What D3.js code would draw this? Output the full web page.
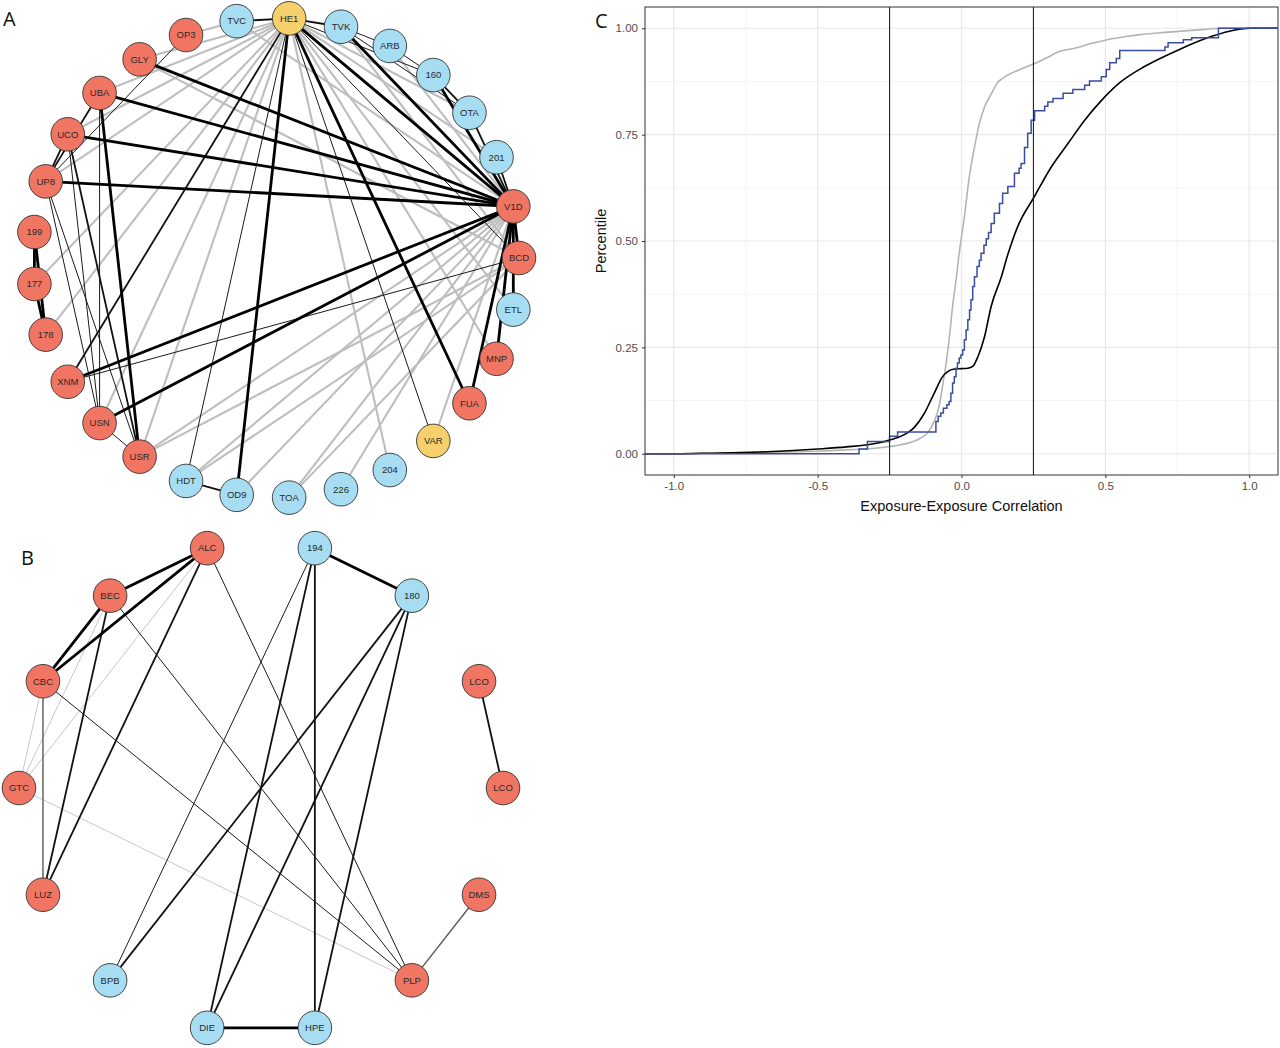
<!DOCTYPE html>
<html><head><meta charset="utf-8">
<script src="https://cdn.jsdelivr.net/npm/d3@7/dist/d3.min.js"></script>
<style>body{margin:0;background:#fff}svg{display:block}</style>
</head><body>
<svg id="c" width="1280" height="1048"></svg>
<script>
// ---------- Panel A network ----------
const nodesA = ["BCD","V1D","201","OTA","160","ARB","TVK","HE1","TVC","OP3","GLY","UBA","UCO","UP8","199","177","178","XNM","USN","USR","HDT","OD9","TOA","226","204","VAR","FUA","MNP","ETL"];
const groupsA = ["r","r","b","b","b","b","b","y","b","r","r","r","r","r","r","r","r","r","r","r","b","b","b","b","b","y","r","r","b"];
// [from, to, style]  g = grey, t = thin black, m = medium black, k = thick black
const edgesA = [
  ["OP3","TVC","g"],["HE1","GLY","g"],["HE1","UBA","g"],["HE1","UCO","g"],["HE1","UP8","g"],
  ["HE1","177","g"],["HE1","178","g"],["HE1","USN","g"],["HE1","USR","g"],["HE1","204","g"],
  ["HE1","MNP","g"],["HE1","ETL","g"],["HE1","OTA","g"],["HE1","201","g"],["TVC","V1D","g"],
  ["GLY","BCD","g"],["V1D","USR","g"],["V1D","HDT","g"],
  ["V1D","OD9","g"],["V1D","TOA","g"],["V1D","226","g"],["BCD","USR","g"],["BCD","HDT","g"],
  ["BCD","TOA","g"],["V1D","VAR","g"],["ARB","V1D","g"],["TVK","BCD","g"],
  ["HE1","TVC","m"],["HE1","TVK","m"],["HE1","V1D","k"],["HE1","OD9","k"],["HE1","HDT","t"],
  ["HE1","XNM","m"],["HE1","FUA","k"],["HE1","VAR","t"],["HE1","160","t"],["HE1","BCD","t"],
  ["TVK","V1D","k"],["TVK","ARB","t"],["ARB","160","t"],["TVK","OTA","t"],["160","V1D","k"],
  ["160","OTA","m"],["OTA","V1D","m"],["201","V1D","m"],
  ["V1D","BCD","k"],["V1D","ETL","k"],["V1D","MNP","k"],["V1D","FUA","k"],
  ["GLY","V1D","k"],["UBA","V1D","k"],["UCO","V1D","k"],["UP8","V1D","k"],["XNM","V1D","k"],["USN","V1D","k"],
  ["XNM","BCD","t"],["UBA","USR","k"],["UBA","USN","t"],["UCO","USR","m"],["UCO","USN","t"],
  ["UP8","USR","t"],["UP8","USN","t"],["UP8","UBA","m"],["UP8","UCO","m"],["OP3","UP8","t"],
  ["USN","USR","t"],["HDT","OD9","m"],["199","177","k"],["177","178","k"],["199","178","k"]
];

// ---------- Panel B network ----------
const nodesB = ["LCO","LCO ","180","194","ALC","BEC","CBC","GTC","LUZ","BPB","DIE","HPE","PLP","DMS"];
const groupsB = ["r","r","b","b","r","r","r","r","r","b","b","b","r","r"];
// l = light grey thin, d = dark grey
const edgesB = [
  ["ALC","BEC","k"],["ALC","CBC","k"],["BEC","CBC","k"],["ALC","LUZ","m"],["BEC","LUZ","m"],
  ["CBC","LUZ","d"],["ALC","GTC","l"],["BEC","GTC","l"],["CBC","GTC","l"],["GTC","PLP","l"],
  ["ALC","PLP","t"],["BEC","PLP","t"],["CBC","PLP","t"],["194","180","k"],["194","BPB","t"],
  ["194","DIE","m"],["194","HPE","m"],["180","BPB","m"],["180","DIE","m"],["180","HPE","m"],
  ["DIE","HPE","k"],["LCO","LCO ","m"],["DMS","PLP","d"]
];

// ---------- Panel C data ----------
const xTicks = [-1.0,-0.5,0.0,0.5,1.0];
const xTickLabels = ["-1.0","-0.5","0.0","0.5","1.0"];
const yTicks = [0,0.25,0.5,0.75,1];
const yTickLabels = ["0.00","0.25","0.50","0.75","1.00"];
const vLines = [-0.25, 0.25];

const greyX = [-1.1,-1.0,-0.9,-0.8,-0.7,-0.6,-0.5,-0.4,-0.3,-0.25,-0.211,-0.153,-0.118,-0.095,-0.078,-0.066,-0.055,-0.043,-0.031,-0.019,-0.008,0.0,0.01,0.027,0.045,0.062,0.08,0.103,0.125,0.138,0.172,0.21,0.254,0.3,0.335,0.4,0.45,0.5,0.567,0.62,0.683,0.8,0.917,1.1];
const greyY = [0,0,0.001,0.002,0.003,0.004,0.006,0.009,0.013,0.017,0.021,0.033,0.049,0.076,0.111,0.158,0.205,0.268,0.346,0.408,0.471,0.51,0.557,0.65,0.72,0.776,0.815,0.845,0.872,0.88,0.894,0.905,0.917,0.932,0.944,0.954,0.964,0.972,0.98,0.985,0.989,0.995,1.0,1.0];

const blackX = [-1.1,-1.0,-0.9,-0.8,-0.7,-0.6,-0.5,-0.4,-0.3,-0.25,-0.211,-0.164,-0.13,-0.095,-0.066,-0.048,-0.025,0.0,0.022,0.04,0.057,0.08,0.103,0.138,0.161,0.196,0.253,0.312,0.37,0.428,0.486,0.55,0.636,0.75,0.87,0.95,1.0,1.1];
const blackY = [0,0,0.001,0.002,0.004,0.007,0.011,0.016,0.024,0.032,0.041,0.062,0.094,0.142,0.181,0.193,0.199,0.2,0.201,0.206,0.228,0.275,0.346,0.415,0.468,0.535,0.604,0.674,0.729,0.784,0.83,0.872,0.91,0.948,0.981,0.996,1.0,1.0];

const blueX = [-1.1,-0.356,-0.327,-0.25,-0.222,-0.089,-0.081,-0.072,-0.063,-0.051,-0.043,-0.037,-0.031,-0.025,-0.019,-0.014,-0.008,-0.002,0.004,0.010,0.016,0.022,0.028,0.033,0.039,0.045,0.054,0.062,0.068,0.078,0.086,0.094,0.103,0.114,0.132,0.143,0.161,0.184,0.2,0.207,0.219,0.23,0.242,0.254,0.289,0.30,0.318,0.353,0.387,0.428,0.445,0.486,0.503,0.515,0.538,0.55,0.707,0.718,0.771,0.80,0.893,1.1];
const blueY = [0,0.011,0.029,0.041,0.051,0.076,0.088,0.096,0.107,0.115,0.123,0.142,0.166,0.181,0.201,0.213,0.225,0.232,0.244,0.268,0.291,0.315,0.338,0.362,0.393,0.416,0.44,0.455,0.471,0.49,0.505,0.52,0.541,0.565,0.588,0.612,0.628,0.659,0.671,0.682,0.72,0.753,0.784,0.806,0.817,0.827,0.835,0.847,0.856,0.866,0.876,0.886,0.903,0.919,0.929,0.948,0.956,0.966,0.973,0.978,1.0,1.0];

// ---------- drawing ----------
const svg = d3.select("#c");
const fills = {r:"#F07562", b:"#A6DDF2", y:"#F6D06C"};
const eStyle = {
  g:{c:"#BEBEBE",w:2.1}, l:{c:"#C8C8C8",w:1.0}, d:{c:"#5a5a5a",w:1.4},
  t:{c:"#1a1a1a",w:1.0}, m:{c:"#111111",w:1.8}, k:{c:"#000000",w:2.8}
};

function drawNetwork(g, names, groups, edges, cx, cy, rx, ry) {
  const n = names.length;
  const ang = d3.scaleLinear().domain([0, n]).range([0, 2*Math.PI]);
  const sx = d3.scaleLinear().domain([-1,1]).range([cx-rx, cx+rx]);
  const sy = d3.scaleLinear().domain([-1,1]).range([cy+ry, cy-ry]);
  const pos = {};
  names.forEach((nm,i)=>{ pos[nm] = [sx(Math.cos(ang(i))), sy(Math.sin(ang(i)))]; });
  const order = ["g","l","d","t","m","k"];
  const sorted = edges.slice().sort((a,b)=>order.indexOf(a[2])-order.indexOf(b[2]));
  g.selectAll("line.e").data(sorted).join("line")
    .attr("x1",d=>pos[d[0]][0]).attr("y1",d=>pos[d[0]][1])
    .attr("x2",d=>pos[d[1]][0]).attr("y2",d=>pos[d[1]][1])
    .attr("stroke",d=>eStyle[d[2]].c).attr("stroke-width",d=>eStyle[d[2]].w);
  const ng = g.selectAll("g.n").data(names).join("g")
    .attr("transform",d=>`translate(${pos[d][0]},${pos[d][1]})`);
  ng.append("circle").attr("r",16.8).attr("fill",(d,i)=>fills[groups[i]])
    .attr("stroke","#333").attr("stroke-width",0.9);
  ng.append("text").text(d=>d.trim()).attr("text-anchor","middle").attr("dy","0.35em")
    .attr("font-family","Liberation Sans, Arial, sans-serif").attr("font-size",9.5)
    .attr("fill","#2a2a2a");
}

drawNetwork(svg.append("g"), nodesA, groupsA, edgesA, 276, 258, 243, 240);
drawNetwork(svg.append("g"), nodesB, groupsB, edgesB, 261, 788, 242, 246);

// panel letters
const lf = "Open Sans, DejaVu Sans, sans-serif";
svg.append("text").text("A").attr("x",3).attr("y",26).attr("font-family",lf).attr("font-size",20).attr("fill","#111");
svg.append("text").text("B").attr("x",21).attr("y",565).attr("font-family",lf).attr("font-size",20).attr("fill","#111");
svg.append("text").text("C").attr("x",595).attr("y",28).attr("font-family",lf).attr("font-size",20).attr("fill","#111");

// ---------- Panel C plot ----------
const L=645, R=1278, T=7, B=475;
const x = d3.scaleLinear().domain([-1.1,1.1]).range([L,R]);
const y = d3.scaleLinear().domain([-0.05,1.05]).range([B,T]);
const pc = svg.append("g");
const minorX = [-0.75,-0.25,0.25,0.75], minorY=[0.125,0.375,0.625,0.875];
pc.selectAll("line.mx").data(minorX).join("line").attr("x1",d=>x(d)).attr("x2",d=>x(d)).attr("y1",T).attr("y2",B).attr("stroke","#F3F3F3").attr("stroke-width",0.8);
pc.selectAll("line.my").data(minorY).join("line").attr("y1",d=>y(d)).attr("y2",d=>y(d)).attr("x1",L).attr("x2",R).attr("stroke","#F3F3F3").attr("stroke-width",0.8);
pc.selectAll("line.gx").data(xTicks).join("line").attr("x1",d=>x(d)).attr("x2",d=>x(d)).attr("y1",T).attr("y2",B).attr("stroke","#E8E8E8").attr("stroke-width",1.2);
pc.selectAll("line.gy").data(yTicks).join("line").attr("y1",d=>y(d)).attr("y2",d=>y(d)).attr("x1",L).attr("x2",R).attr("stroke","#E8E8E8").attr("stroke-width",1.2);

const ln = d3.line().x(d=>x(d[0])).y(d=>y(d[1]));
pc.append("path").datum(greyX.map((v,i)=>[v,greyY[i]])).attr("d",ln.curve(d3.curveMonotoneX))
  .attr("fill","none").attr("stroke","#B4B4B4").attr("stroke-width",1.6);
pc.append("path").datum(blackX.map((v,i)=>[v,blackY[i]])).attr("d",ln.curve(d3.curveMonotoneX))
  .attr("fill","none").attr("stroke","#000").attr("stroke-width",1.6);
pc.append("path").datum(blueX.map((v,i)=>[v,blueY[i]])).attr("d",ln.curve(d3.curveStepAfter))
  .attr("fill","none").attr("stroke","#3B4CA0").attr("stroke-width",1.5);
pc.selectAll("line.v").data(vLines).join("line").attr("x1",d=>x(d)).attr("x2",d=>x(d)).attr("y1",T).attr("y2",B)
  .attr("stroke","#222").attr("stroke-width",1.1);

pc.append("rect").attr("x",L).attr("y",T).attr("width",R-L).attr("height",B-T).attr("fill","none").attr("stroke","#333").attr("stroke-width",1);

const tf = "Liberation Sans, Arial, sans-serif";
const xa = pc.append("g").attr("transform",`translate(0,${B})`)
  .call(d3.axisBottom(x).tickValues(xTicks).tickFormat((d,i)=>xTickLabels[i]).tickSize(3).tickPadding(4));
const ya = pc.append("g").attr("transform",`translate(${L},0)`)
  .call(d3.axisLeft(y).tickValues(yTicks).tickFormat((d,i)=>yTickLabels[i]).tickSize(3).tickPadding(4));
[xa,ya].forEach(a=>{
  a.select(".domain").remove();
  a.selectAll(".tick line").attr("stroke","#333");
  a.selectAll(".tick text").attr("fill","#4D4D4D").attr("font-family",tf).attr("font-size",11.5);
});
pc.append("text").text("Exposure-Exposure Correlation").attr("x",(L+R)/2).attr("y",511)
  .attr("text-anchor","middle").attr("font-family",tf).attr("font-size",14.5).attr("fill","#111");
pc.append("text").text("Percentile").attr("transform",`translate(606,${(T+B)/2}) rotate(-90)`)
  .attr("text-anchor","middle").attr("font-family",tf).attr("font-size",14.5).attr("fill","#111");
</script>
</body></html>
